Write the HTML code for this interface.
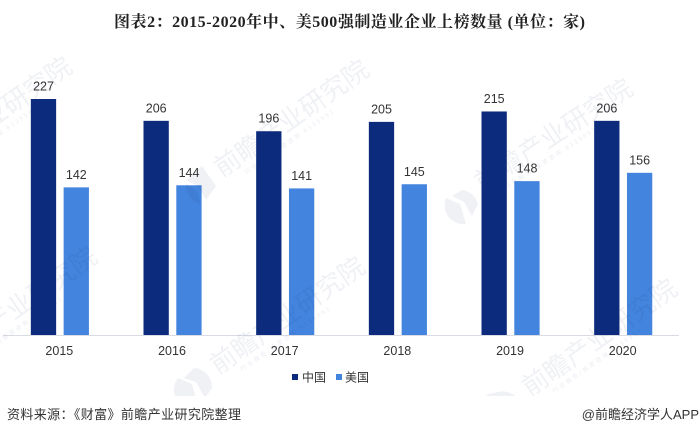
<!DOCTYPE html>
<html lang="zh">
<head>
<meta charset="utf-8">
<title>图表2</title>
<style>
html,body{margin:0;padding:0;background:#fff;width:700px;height:435px;overflow:hidden}
svg{display:block}
text{font-family:"Liberation Sans","Noto Sans CJK SC",sans-serif}
.wm{font-size:26px;fill:#1e3a78;fill-opacity:.07;font-family:"Noto Sans CJK SC",sans-serif;letter-spacing:0}
.wms{font-size:6px;fill:#1e3a78;fill-opacity:.1;font-family:"Noto Sans CJK SC",sans-serif;letter-spacing:2px}
.lg{fill:#1e3a78;fill-opacity:.07}
</style>
</head>
<body>
<svg id="chart" xmlns="http://www.w3.org/2000/svg" width="700" height="435" viewBox="0 0 700 435">
  <defs><clipPath id="wm-clip"><rect x="0" y="40" width="700" height="356"/></clipPath></defs>
  <text x="114" y="27" font-size="16" font-weight="700" fill="#222" style="font-family:'Liberation Serif','Noto Serif CJK SC',serif" textLength="471" lengthAdjust="spacing">图表2：2015-2020年中、美500强制造业企业上榜数量 (单位：家)</text>
  <g id="bars"></g>
  <line x1="3" y1="335.5" x2="679" y2="335.5" stroke="#d9dce3" stroke-width="1"/>
  <g id="labels"></g>
  <g clip-path="url(#wm-clip)">
    <g transform="translate(-75,175) rotate(-35)"><text class="wm">前瞻产业研究院</text><text class="wms" y="11" x="22">行业报告/投资咨询 8339991</text></g>
    <g transform="translate(222,178) rotate(-35)"><text class="wm">前瞻产业研究院</text><text class="wms" y="11" x="22">行业报告/投资咨询 8339991</text></g>
    <g transform="translate(482,192) rotate(-33)"><text class="wm">前瞻产业研究院</text><text class="wms" y="11" x="22">行业报告/投资咨询 8339991</text></g>
    <g transform="translate(-50,365) rotate(-35)"><text class="wm">前瞻产业研究院</text><text class="wms" y="11" x="22">行业报告/投资咨询 8339991</text></g>
    <g transform="translate(218,375) rotate(-35)"><text class="wm">前瞻产业研究院</text><text class="wms" y="11" x="22">行业报告/投资咨询 8339991</text></g>
    <g transform="translate(530,397) rotate(-35)"><text class="wm">前瞻产业研究院</text><text class="wms" y="11" x="22">行业报告/投资咨询 8339991</text></g>
    <path class="lg" d="M194 368a19 19 0 0 1 18 20l-7 10-9-16-12-4zM178 378l14 6 4 14h-20a19 19 0 0 1 2-20z"/>
    <path class="lg" d="M202 166l14 20-10 14-8-14-12-6zM186 184l10 6 5 14a19 19 0 0 1-15-20z"/>
    <path class="lg" d="M462 190a19 19 0 0 1 16 14l-6 12-8-14-12-6zM446 198l14 6 6 20a19 19 0 0 1-20-26z"/>
    <path class="lg" d="M495 393a19 19 0 0 1 20 3h-30a19 19 0 0 1 10-3z"/>
  </g>
  <rect x="292" y="374" width="6" height="6" fill="#0d2b7d"/>
  <text x="302" y="381.5" font-size="12" fill="#333">中国</text>
  <rect x="336" y="374" width="6" height="6" fill="#4384de"/>
  <text x="345" y="381.5" font-size="12" fill="#333">美国</text>
  <text x="7" y="419" font-size="13" fill="#333" textLength="234" lengthAdjust="spacing">资料来源：《财富》前瞻产业研究院整理</text>
  <text x="699" y="419" font-size="13" fill="#333" text-anchor="end">@前瞻经济学人APP</text>
</svg>
<script>
const categories = ['2015', '2016', '2017', '2018', '2019', '2020'];
const chinaValues = [227, 206, 196, 205, 215, 206];
const usaValues = [142, 144, 141, 145, 148, 156];

const NS = 'http://www.w3.org/2000/svg';
const plotLeft = 3, plotRight = 679, baseY = 335, unitPx = 236 / 227, barW = 25.3;
function xCenter(i) { return plotLeft + (plotRight - plotLeft) / categories.length * (i + 0.5); }
function yPos(v) { return baseY - v * unitPx; }
const barsGroup = document.getElementById('bars');
const labelsGroup = document.getElementById('labels');
function makeBar(x, v, color) {
  const r = document.createElementNS(NS, 'rect');
  r.setAttribute('x', x);
  r.setAttribute('y', yPos(v));
  r.setAttribute('width', barW);
  r.setAttribute('height', baseY - yPos(v));
  r.setAttribute('fill', color);
  barsGroup.appendChild(r);
  return r;
}
function makeLabel(x, y, str, size, color) {
  const t = document.createElementNS(NS, 'text');
  t.setAttribute('x', x);
  t.setAttribute('y', y);
  t.setAttribute('text-anchor', 'middle');
  t.setAttribute('font-size', size);
  t.setAttribute('fill', color);
  t.textContent = str;
  labelsGroup.appendChild(t);
  return t;
}
categories.forEach(function (cat, i) {
  const c = xCenter(i);
  const chinaBar = makeBar(c - 28.5, chinaValues[i], '#0d2b7d');
  
  
  const usaBar = makeBar(c + 4.3, usaValues[i], '#4384de');
  
  
  const chinaLabel = makeLabel(c - 15.8, yPos(chinaValues[i]) - 8.5, chinaValues[i], 12.5, '#333');
  
  
  const usaLabel = makeLabel(c + 17, yPos(usaValues[i]) - 8.5, usaValues[i], 12.5, '#333');
  
  
  const tick = makeLabel(c, 355, cat, 12.5, '#333');
  
  
});
</script>
</body>
</html>
